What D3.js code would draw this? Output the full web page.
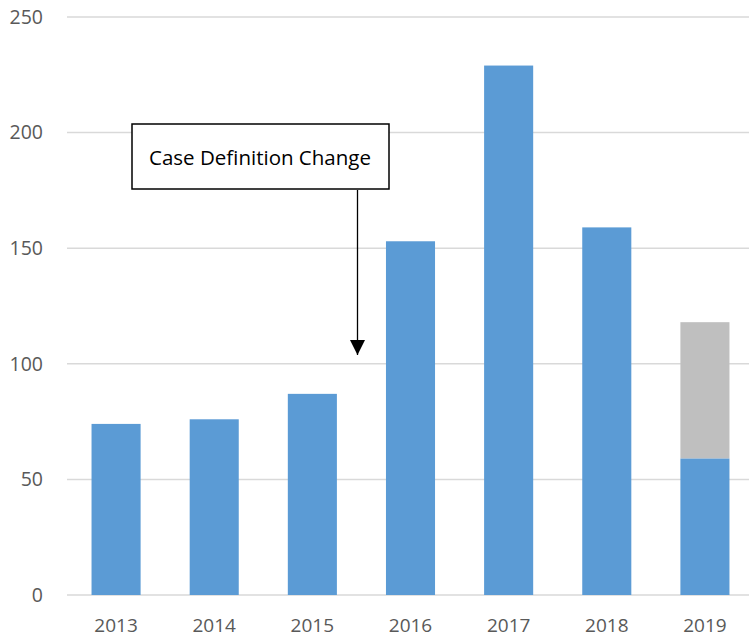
<!DOCTYPE html>
<html>
<head>
<meta charset="utf-8">
<script src="https://cdn.jsdelivr.net/npm/d3@7"></script>
<style>
  body { margin: 0; background: #fff; }
  text { font-family: "Open Sans", "Liberation Sans", sans-serif; }
</style>
</head>
<body>
<div id="chart"></div>
<script>
// Cases per year; 2019 has a second (grey) stacked part
const years = ['2013', '2014', '2015', '2016', '2017', '2018', '2019'];
const confirmed = [74, 76, 87, 153, 229, 159, 59];
const pending = [0, 0, 0, 0, 0, 0, 59];
const yTicks = [0, 50, 100, 150, 200, 250];

const width = 749;
const height = 639;
const margin = { top: 17, right: -5, bottom: 44, left: 67 };

const svg = d3.select('#chart').append('svg')
    .attr('width', width)
    .attr('height', height);

const x = d3.scaleBand()
    .domain(years)
    .range([margin.left, width - margin.right])
    .paddingInner(0.5)
    .paddingOuter(0.25);

const y = d3.scaleLinear()
    .domain([0, 250])
    .range([height - margin.bottom, margin.top]);

// Gridlines
svg.append('g')
    .selectAll('line')
    .data(yTicks)
    .enter()
    .append('line')
    .attr('x1', margin.left)
    .attr('x2', width)
    .attr('y1', d => y(d))
    .attr('y2', d => y(d))
    .style('stroke', '#d9d9d9')
    .style('stroke-width', 1.5);

// Y axis labels
svg.append('g')
    .selectAll('text')
    .data(yTicks)
    .enter()
    .append('text')
    .attr('x', 43)
    .attr('y', d => y(d))
    .attr('dy', '0.35em')
    .attr('text-anchor', 'end')
    .style('font-size', '19.5px')
    .style('fill', '#595959')
    .text(d => d);

// X axis labels
svg.append('g')
    .selectAll('text')
    .data(years)
    .enter()
    .append('text')
    .attr('x', d => x(d) + x.bandwidth() / 2)
    .attr('y', 632)
    .attr('text-anchor', 'middle')
    .style('font-size', '19px')
    .style('fill', '#595959')
    .text(d => d);

// Bars
const rows = years.map((d, i) => ({ year: d, a: confirmed[i], b: pending[i] }));

svg.append('g')
    .selectAll('rect')
    .data(rows.filter(d => d.b > 0))
    .enter()
    .append('rect')
    .attr('x', d => x(d.year))
    .attr('y', d => y(d.a + d.b))
    .attr('width', x.bandwidth())
    .attr('height', d => y(d.a) - y(d.a + d.b))
    .style('fill', '#bfbfbf');

svg.append('g')
    .selectAll('rect')
    .data(rows)
    .enter()
    .append('rect')
    .attr('x', d => x(d.year))
    .attr('y', d => y(d.a))
    .attr('width', x.bandwidth())
    .attr('height', d => y(0) - y(d.a))
    .style('fill', '#5b9bd5');

// Annotation
svg.append('defs').append('marker')
    .attr('id', 'arrow')
    .attr('viewBox', '0 0 10 10')
    .attr('refX', 10)
    .attr('refY', 5)
    .attr('markerUnits', 'userSpaceOnUse')
    .attr('markerWidth', 15)
    .attr('markerHeight', 17)
    .attr('orient', 'auto')
    .append('path')
    .attr('d', 'M0,0 L10,5 L0,10 Z')
    .style('fill', '#000');

svg.append('line')
    .attr('x1', 357.5)
    .attr('x2', 357.5)
    .attr('y1', 190)
    .attr('y2', 355)
    .style('stroke', '#000')
    .style('stroke-width', 1.3)
    .attr('marker-end', 'url(#arrow)');

svg.append('rect')
    .attr('x', 132)
    .attr('y', 124)
    .attr('width', 257)
    .attr('height', 65)
    .style('fill', '#fff')
    .style('stroke', '#000')
    .style('stroke-width', 1.5);

svg.append('text')
    .attr('x', 260)
    .attr('y', 165)
    .attr('text-anchor', 'middle')
    .style('font-size', '20.5px')
    .style('fill', '#000')
    .text('Case Definition Change');
</script>
</body>
</html>
